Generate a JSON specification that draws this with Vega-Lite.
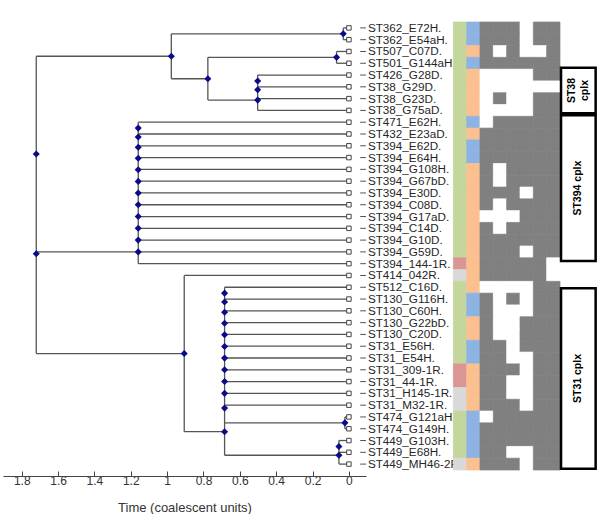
{
  "$schema": "https://vega.github.io/schema/vega-lite/v6.json",
  "padding": {"left": 3, "top": 21, "right": 0, "bottom": 0},
  "background": "white",
  "config": {"view": {"stroke": null}, "font": "Liberation Sans"},
  "datasets": {
    "leaves": [
      {"r": 1, "name": "ST362_E72H.", "t": 0, "tp": 0.031, "src": "S1", "host": "H", "c1": "P", "c2": "P", "c3": "P", "c4": "A", "c5": "P", "c6": "P"},
      {"r": 2, "name": "ST362_E54aH.", "t": 0, "tp": 0.031, "src": "S1", "host": "H", "c1": "P", "c2": "P", "c3": "P", "c4": "A", "c5": "P", "c6": "P"},
      {"r": 3, "name": "ST507_C07D.", "t": 0, "tp": 0.068, "src": "S1", "host": "D", "c1": "P", "c2": "A", "c3": "P", "c4": "A", "c5": "A", "c6": "P"},
      {"r": 4, "name": "ST501_G144aH.", "t": 0, "tp": 0.068, "src": "S1", "host": "H", "c1": "P", "c2": "P", "c3": "P", "c4": "P", "c5": "P", "c6": "P"},
      {"r": 5, "name": "ST426_G28D.", "t": 0, "tp": 0.502, "src": "S1", "host": "D", "c1": "A", "c2": "A", "c3": "A", "c4": "A", "c5": "P", "c6": "P"},
      {"r": 6, "name": "ST38_G29D.", "t": 0, "tp": 0.502, "src": "S1", "host": "D", "c1": "A", "c2": "A", "c3": "A", "c4": "A", "c5": "A", "c6": "A"},
      {"r": 7, "name": "ST38_G23D.", "t": 0, "tp": 0.502, "src": "S1", "host": "D", "c1": "A", "c2": "P", "c3": "A", "c4": "A", "c5": "P", "c6": "P"},
      {"r": 8, "name": "ST38_G75aD.", "t": 0, "tp": 0.502, "src": "S1", "host": "D", "c1": "A", "c2": "A", "c3": "A", "c4": "A", "c5": "P", "c6": "P"},
      {"r": 9, "name": "ST471_E62H.", "t": 0, "tp": 1.159, "src": "S1", "host": "H", "c1": "A", "c2": "P", "c3": "P", "c4": "P", "c5": "P", "c6": "P"},
      {"r": 10, "name": "ST432_E23aD.", "t": 0, "tp": 1.159, "src": "S1", "host": "D", "c1": "P", "c2": "P", "c3": "P", "c4": "P", "c5": "P", "c6": "P"},
      {"r": 11, "name": "ST394_E62D.", "t": 0, "tp": 1.159, "src": "S1", "host": "H", "c1": "P", "c2": "P", "c3": "P", "c4": "P", "c5": "P", "c6": "P"},
      {"r": 12, "name": "ST394_E64H.", "t": 0, "tp": 1.159, "src": "S1", "host": "H", "c1": "P", "c2": "P", "c3": "P", "c4": "P", "c5": "P", "c6": "P"},
      {"r": 13, "name": "ST394_G108H.", "t": 0, "tp": 1.159, "src": "S1", "host": "D", "c1": "P", "c2": "A", "c3": "P", "c4": "P", "c5": "P", "c6": "P"},
      {"r": 14, "name": "ST394_G67bD.", "t": 0, "tp": 1.159, "src": "S1", "host": "D", "c1": "P", "c2": "A", "c3": "P", "c4": "P", "c5": "P", "c6": "P"},
      {"r": 15, "name": "ST394_E30D.", "t": 0, "tp": 1.159, "src": "S1", "host": "D", "c1": "P", "c2": "P", "c3": "P", "c4": "A", "c5": "P", "c6": "P"},
      {"r": 16, "name": "ST394_C08D.", "t": 0, "tp": 1.159, "src": "S1", "host": "D", "c1": "P", "c2": "A", "c3": "P", "c4": "P", "c5": "P", "c6": "P"},
      {"r": 17, "name": "ST394_G17aD.", "t": 0, "tp": 1.159, "src": "S1", "host": "D", "c1": "A", "c2": "A", "c3": "A", "c4": "P", "c5": "P", "c6": "P"},
      {"r": 18, "name": "ST394_C14D.", "t": 0, "tp": 1.159, "src": "S1", "host": "D", "c1": "P", "c2": "A", "c3": "P", "c4": "P", "c5": "P", "c6": "P"},
      {"r": 19, "name": "ST394_G10D.", "t": 0, "tp": 1.159, "src": "S1", "host": "D", "c1": "P", "c2": "P", "c3": "P", "c4": "P", "c5": "P", "c6": "P"},
      {"r": 20, "name": "ST394_G59D.", "t": 0, "tp": 1.159, "src": "S1", "host": "D", "c1": "P", "c2": "P", "c3": "P", "c4": "A", "c5": "P", "c6": "P"},
      {"r": 21, "name": "ST394_144-1R.", "t": 0, "tp": 1.159, "src": "S2", "host": "D", "c1": "P", "c2": "P", "c3": "P", "c4": "P", "c5": "P", "c6": "A"},
      {"r": 22, "name": "ST414_042R.", "t": 0, "tp": 0.906, "src": "S3", "host": "D", "c1": "P", "c2": "P", "c3": "P", "c4": "P", "c5": "P", "c6": "A"},
      {"r": 23, "name": "ST512_C16D.", "t": 0, "tp": 0.684, "src": "S1", "host": "D", "c1": "A", "c2": "A", "c3": "A", "c4": "A", "c5": "P", "c6": "P"},
      {"r": 24, "name": "ST130_G116H.", "t": 0, "tp": 0.684, "src": "S1", "host": "H", "c1": "P", "c2": "A", "c3": "P", "c4": "A", "c5": "P", "c6": "P"},
      {"r": 25, "name": "ST130_C60H.", "t": 0, "tp": 0.684, "src": "S1", "host": "H", "c1": "P", "c2": "A", "c3": "A", "c4": "A", "c5": "P", "c6": "P"},
      {"r": 26, "name": "ST130_G22bD.", "t": 0, "tp": 0.684, "src": "S1", "host": "D", "c1": "P", "c2": "A", "c3": "A", "c4": "P", "c5": "P", "c6": "P"},
      {"r": 27, "name": "ST130_C20D.", "t": 0, "tp": 0.684, "src": "S1", "host": "D", "c1": "P", "c2": "A", "c3": "A", "c4": "P", "c5": "P", "c6": "P"},
      {"r": 28, "name": "ST31_E56H.", "t": 0, "tp": 0.684, "src": "S1", "host": "H", "c1": "P", "c2": "P", "c3": "A", "c4": "P", "c5": "P", "c6": "P"},
      {"r": 29, "name": "ST31_E54H.", "t": 0, "tp": 0.684, "src": "S1", "host": "H", "c1": "P", "c2": "P", "c3": "A", "c4": "A", "c5": "P", "c6": "P"},
      {"r": 30, "name": "ST31_309-1R.", "t": 0, "tp": 0.684, "src": "S2", "host": "D", "c1": "P", "c2": "P", "c3": "P", "c4": "A", "c5": "P", "c6": "P"},
      {"r": 31, "name": "ST31_44-1R.", "t": 0, "tp": 0.684, "src": "S2", "host": "D", "c1": "P", "c2": "P", "c3": "A", "c4": "A", "c5": "P", "c6": "P"},
      {"r": 32, "name": "ST31_H145-1R.", "t": 0, "tp": 0.684, "src": "S3", "host": "D", "c1": "P", "c2": "P", "c3": "A", "c4": "A", "c5": "P", "c6": "P"},
      {"r": 33, "name": "ST31_M32-1R.", "t": 0, "tp": 0.684, "src": "S3", "host": "D", "c1": "P", "c2": "P", "c3": "P", "c4": "A", "c5": "P", "c6": "P"},
      {"r": 34, "name": "ST474_G121aH.", "t": 0, "tp": 0.022, "src": "S1", "host": "H", "c1": "A", "c2": "P", "c3": "P", "c4": "P", "c5": "P", "c6": "P"},
      {"r": 35, "name": "ST474_G149H.", "t": 0, "tp": 0.022, "src": "S1", "host": "H", "c1": "P", "c2": "P", "c3": "P", "c4": "P", "c5": "P", "c6": "P"},
      {"r": 36, "name": "ST449_G103H.", "t": 0, "tp": 0.055, "src": "S1", "host": "H", "c1": "P", "c2": "P", "c3": "P", "c4": "P", "c5": "P", "c6": "P"},
      {"r": 37, "name": "ST449_E68H.", "t": 0, "tp": 0.055, "src": "S1", "host": "H", "c1": "P", "c2": "P", "c3": "A", "c4": "A", "c5": "P", "c6": "P"},
      {"r": 38, "name": "ST449_MH46-2R", "t": 0, "tp": 0.055, "src": "S3", "host": "D", "c1": "P", "c2": "P", "c3": "P", "c4": "A", "c5": "P", "c6": "P"}
    ],
    "edges": [
      {"t": 0.031, "t2": 0.031, "r": 1, "r2": 2},
      {"t": 0.068, "t2": 0.068, "r": 3, "r2": 4},
      {"t": 0.502, "t2": 0.502, "r": 5, "r2": 8},
      {"t": 0.776, "t2": 0.776, "r": 3.5, "r2": 7.125},
      {"t": 0.977, "t2": 0.977, "r": 1.5, "r2": 5.3125},
      {"t": 1.159, "t2": 1.159, "r": 9, "r2": 21},
      {"t": 1.72, "t2": 1.72, "r": 3.406, "r2": 28.625},
      {"t": 0.906, "t2": 0.906, "r": 22, "r2": 35.25},
      {"t": 0.684, "t2": 0.684, "r": 23, "r2": 37.25},
      {"t": 0.022, "t2": 0.022, "r": 34, "r2": 35},
      {"t": 0.055, "t2": 0.055, "r": 36, "r2": 38},
      {"t": 0.977, "t2": 0.031, "r": 1.5, "r2": 1.5},
      {"t": 0.977, "t2": 0.776, "r": 5.3125, "r2": 5.3125},
      {"t": 0.776, "t2": 0.068, "r": 3.5, "r2": 3.5},
      {"t": 0.776, "t2": 0.502, "r": 7.125, "r2": 7.125},
      {"t": 1.72, "t2": 0.977, "r": 3.406, "r2": 3.406},
      {"t": 1.72, "t2": 1.159, "r": 20, "r2": 20},
      {"t": 1.72, "t2": 0.906, "r": 28.625, "r2": 28.625},
      {"t": 0.906, "t2": 0.684, "r": 35.25, "r2": 35.25},
      {"t": 0.684, "t2": 0.022, "r": 34.5, "r2": 34.5},
      {"t": 0.684, "t2": 0.055, "r": 37.25, "r2": 37.25}
    ],
    "nodes": [
      {"t": 0.031, "r": 1.5}, {"t": 0.068, "r": 3.5},
      {"t": 0.502, "r": 5.5}, {"t": 0.502, "r": 6.25}, {"t": 0.502, "r": 7.125},
      {"t": 0.776, "r": 5.3125}, {"t": 0.977, "r": 3.406},
      {"t": 1.72, "r": 11.7}, {"t": 1.72, "r": 20.16},
      {"t": 1.159, "r": 9.5}, {"t": 1.159, "r": 10.25}, {"t": 1.159, "r": 11.125}, {"t": 1.159, "r": 12.06},
      {"t": 1.159, "r": 13.03}, {"t": 1.159, "r": 14.02}, {"t": 1.159, "r": 15.01}, {"t": 1.159, "r": 16.0},
      {"t": 1.159, "r": 17.0}, {"t": 1.159, "r": 18.0}, {"t": 1.159, "r": 19.0}, {"t": 1.159, "r": 20.0},
      {"t": 0.906, "r": 28.625},
      {"t": 0.684, "r": 23.5}, {"t": 0.684, "r": 24.25}, {"t": 0.684, "r": 25.125}, {"t": 0.684, "r": 26.06},
      {"t": 0.684, "r": 27.03}, {"t": 0.684, "r": 28.02}, {"t": 0.684, "r": 29.01}, {"t": 0.684, "r": 30.0},
      {"t": 0.684, "r": 31.0}, {"t": 0.684, "r": 32.0}, {"t": 0.684, "r": 33.25}, {"t": 0.684, "r": 35.25},
      {"t": 0.022, "r": 34.5}, {"t": 0.055, "r": 36.5}, {"t": 0.055, "r": 37.25}
    ],
    "boxes": [
      {"k": "cplx", "label": "ST38\ncplx", "lines": 2, "start": 4.38, "end": 8.24, "mid": 6.31},
      {"k": "cplx", "label": "ST394 cplx", "lines": 1, "start": 8.41, "end": 20.77, "mid": 14.59},
      {"k": "cplx", "label": "ST31 cplx", "lines": 1, "start": 23.08, "end": 38.4, "mid": 30.74}
    ]
  },
  "spacing": 87.33,
  "bounds": "flush",
  "hconcat": [
    {
      "width": 363,
      "height": 448,
      "encoding": {
        "x": {"field": "t", "type": "quantitative",
          "scale": {"domain": [-0.094, 1.903], "reverse": true, "nice": false, "zero": false},
          "axis": {"title": "Time (coalescent units)", "values": [0, 0.2, 0.4, 0.6, 0.8, 1, 1.2, 1.4, 1.6, 1.8], "format": "~g",
            "offset": 6, "tickSize": -5, "labelPadding": 4, "grid": false, "domainColor": "#444", "tickColor": "#444",
            "labelColor": "#333", "labelFontSize": 12, "titleFontSize": 13, "titleFontWeight": "normal", "titleColor": "#333", "titlePadding": 15}},
        "y": {"field": "r", "type": "quantitative", "scale": {"domain": [0.5, 38.5], "reverse": true, "nice": false, "zero": false}, "axis": null}
      },
      "layer": [
        {"data": {"name": "edges"}, "mark": {"type": "rule", "color": "#555", "strokeWidth": 1.3},
          "encoding": {"x2": {"field": "t2"}, "y2": {"field": "r2"}}},
        {"data": {"name": "leaves"}, "mark": {"type": "rule", "color": "#555", "strokeWidth": 1.3},
          "encoding": {"x2": {"field": "tp"}}},
        {"data": {"name": "leaves"}, "mark": {"type": "rule", "color": "#555", "strokeWidth": 1},
          "encoding": {"x": {"datum": -0.062}, "x2": {"datum": -0.094}}},
        {"data": {"name": "leaves"}, "mark": {"type": "point", "shape": "square", "size": 20, "filled": true, "fill": "white", "stroke": "#444", "strokeWidth": 1, "opacity": 1}},
        {"data": {"name": "nodes"}, "mark": {"type": "point", "shape": "diamond", "size": 50, "filled": true, "color": "#0a0a8a", "opacity": 1}},
        {"data": {"name": "leaves"}, "mark": {"type": "text", "align": "left", "baseline": "middle", "dx": 19, "fontSize": 11.7, "color": "#262626"},
          "encoding": {"text": {"field": "name"}}}
      ]
    },
    {
      "spacing": 0,
      "bounds": "flush",
      "hconcat": [
        {
          "width": 106.67,
          "height": 448,
          "data": {"name": "leaves"},
          "transform": [{"fold": ["src", "host", "c1", "c2", "c3", "c4", "c5", "c6"]}],
          "mark": {"type": "rect", "strokeWidth": 0.7},
          "encoding": {
            "x": {"field": "key", "type": "nominal", "sort": ["src", "host", "c1", "c2", "c3", "c4", "c5", "c6"], "scale": {"paddingInner": 0, "paddingOuter": 0}, "axis": null},
            "y": {"field": "r", "type": "ordinal", "scale": {"paddingInner": 0, "paddingOuter": 0}, "axis": null},
            "color": {"field": "value", "type": "nominal",
              "scale": {"domain": ["S1", "S2", "S3", "H", "D", "P", "A"], "range": ["#c3d69b", "#d99694", "#d9d9d9", "#8db3e2", "#fac090", "#808080", "#ffffff"]},
              "legend": null},
            "stroke": {"field": "value", "type": "nominal",
              "scale": {"domain": ["S1", "S2", "S3", "H", "D", "P", "A"], "range": ["#c3d69b", "#d99694", "#d9d9d9", "#8db3e2", "#fac090", "#808080", "#ffffff"]},
              "legend": null}
          }
        },
        {
          "width": 36,
          "height": 448,
          "data": {"name": "boxes"},
          "encoding": {
            "x": {"field": "k", "type": "nominal", "scale": {"paddingInner": 0, "paddingOuter": 0.02}, "axis": null},
            "y": {"field": "mid", "type": "quantitative", "scale": {"domain": [0.5, 38.5], "reverse": true, "nice": false, "zero": false}, "axis": null}
          },
          "layer": [
            {"mark": {"type": "rect", "fill": "white", "stroke": "black", "strokeWidth": 2.5},
              "encoding": {"y": {"field": "start", "type": "quantitative", "scale": {"domain": [0.5, 38.5], "reverse": true, "nice": false, "zero": false}, "axis": null}, "y2": {"field": "end"}}},
            {"transform": [{"filter": "datum.lines == 2"}],
              "mark": {"type": "text", "angle": 270, "fontWeight": "bold", "fontSize": 10.5, "lineBreak": "\n", "lineHeight": 13, "align": "center", "baseline": "middle", "dy": -6.5, "color": "black"},
              "encoding": {"text": {"field": "label"}}},
            {"transform": [{"filter": "datum.lines == 1"}],
              "mark": {"type": "text", "angle": 270, "fontWeight": "bold", "fontSize": 10.5, "align": "center", "baseline": "middle", "color": "black"},
              "encoding": {"text": {"field": "label"}}}
          ]
        }
      ]
    }
  ]
}
